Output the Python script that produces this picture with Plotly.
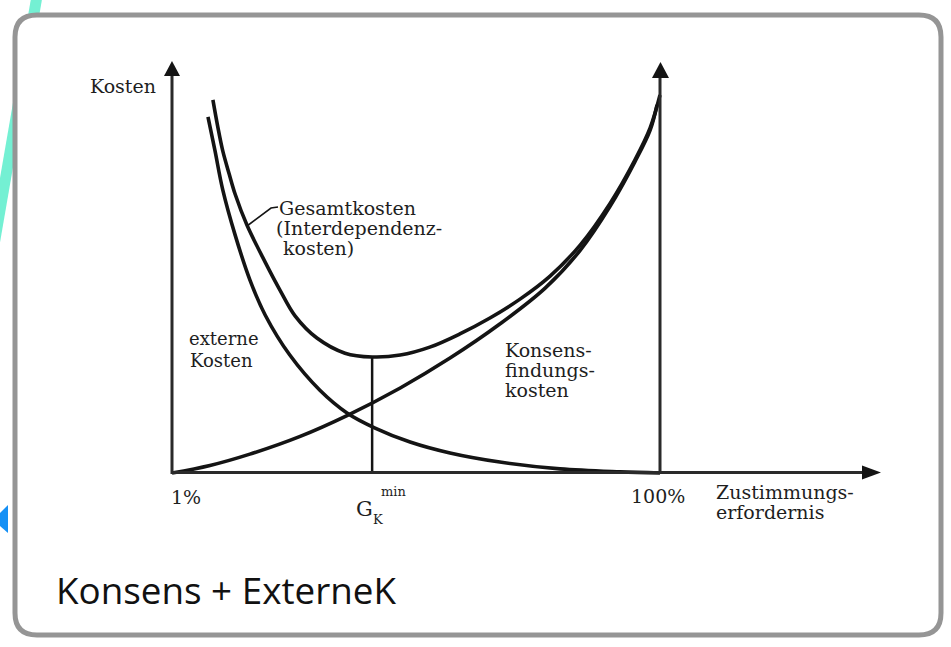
import plotly.graph_objects as go

W, H = 951, 647

# Zustimmungserfordernis in %, Kosten in relativen Einheiten
ext_x = [8.3, 9.7, 11.3, 13.8, 16.8, 19.9, 24.9, 31.0, 36.5, 42.2, 49.3, 57.4, 67.5, 79.7, 91.9, 100]
ext_y = [94.2, 85.4, 74.9, 63.0, 51.1, 41.8, 31.2, 21.9, 15.9, 11.9, 8.2, 5.3, 2.9, 1.1, 0.3, 0]

kons_x = [1, 8.7, 16.8, 27.0, 36.5, 47.3, 57.4, 67.5, 76.7, 83.8, 89.9, 94.9, 98.0, 99.4]
kons_y = [0, 2.0, 5.0, 9.7, 15.2, 22.5, 30.4, 39.4, 48.9, 58.9, 70.6, 82.3, 90.7, 97.4]

ges_x = [9.3, 10.3, 11.3, 12.6, 13.8, 16.2, 19.9, 22.9, 26.0, 30.4, 36.1, 41.6, 47.3, 53.3, 59.4,
         65.5, 71.6, 77.7, 83.8, 89.9, 94.9, 98.0, 100]
ges_y = [98.7, 91.5, 85.2, 79.1, 73.8, 65.6, 55.8, 48.4, 41.5, 35.7, 31.7, 30.7, 31.2, 33.3, 36.8,
         41.0, 46.0, 52.1, 60.3, 71.4, 82.8, 91.3, 100]

gk_min_x = 41.6
gk_min_y = 30.7

# where the scanned diagram sits on the slide (pixels)
X_PX = (172, 660)   # 1 % .. 100 %
Y_PX = (473, 95)    # Kosten 0 .. 100


def px_to_x(px):
    return 1 + (px - X_PX[0]) * 99 / (X_PX[1] - X_PX[0])


def py_to_y(py):
    return (Y_PX[0] - py) * 100 / (Y_PX[0] - Y_PX[1])


def P(px, py):
    return px / W, 1 - py / H


def path(points, close=True):
    s = ""
    for i, (px, py) in enumerate(points):
        x, y = P(px, py)
        s += ("M" if i == 0 else "L") + f"{x:.5f},{y:.5f} "
    return s + ("Z" if close else "")


def rounded_rect(x0, y0, x1, y1, r):
    def p(px, py):
        x, y = P(px, py)
        return f"{x:.5f},{y:.5f}"
    return (f"M{p(x0 + r, y0)} L{p(x1 - r, y0)} Q{p(x1, y0)} {p(x1, y0 + r)} "
            f"L{p(x1, y1 - r)} Q{p(x1, y1)} {p(x1 - r, y1)} "
            f"L{p(x0 + r, y1)} Q{p(x0, y1)} {p(x0, y1 - r)} "
            f"L{p(x0, y0 + r)} Q{p(x0, y0)} {p(x0 + r, y0)} Z")


INK = "#141414"
AXIS = "#2a2a2a"

fig = go.Figure()
curve = dict(mode="lines", line=dict(color=INK, width=3.6, shape="spline", smoothing=1.0),
             hoverinfo="skip", showlegend=False)
fig.add_trace(go.Scatter(x=ext_x, y=ext_y, **curve))
fig.add_trace(go.Scatter(x=kons_x, y=kons_y, **curve))
fig.add_trace(go.Scatter(x=ges_x, y=ges_y, **curve))
fig.add_trace(go.Scatter(x=[gk_min_x, gk_min_x], y=[0, gk_min_y], mode="lines",
                         line=dict(color=INK, width=2.5), hoverinfo="skip", showlegend=False))

shapes = [
    # slide decoration behind the box
    dict(type="line", xref="paper", yref="paper", x0=P(37, -4)[0], y0=P(37, -4)[1],
         x1=P(-6, 245)[0], y1=P(-6, 245)[1], line=dict(color="#74F0D3", width=11), layer="below"),
    dict(type="path", xref="paper", yref="paper",
         path=path([(0, 513), (8, 505), (8, 533), (0, 526)]),
         fillcolor="#1590F5", line=dict(width=0), layer="below"),
    dict(type="path", xref="paper", yref="paper", path=rounded_rect(15, 15, 941, 635, 22),
         fillcolor="white", line=dict(color="#959595", width=5), layer="below"),
    # axes
    dict(type="line", xref="paper", yref="paper", x0=P(172, 474)[0], y0=P(172, 474)[1],
         x1=P(172, 72)[0], y1=P(172, 72)[1], line=dict(color=AXIS, width=3)),
    dict(type="line", xref="paper", yref="paper", x0=P(660, 474)[0], y0=P(660, 474)[1],
         x1=P(660, 74)[0], y1=P(660, 74)[1], line=dict(color=AXIS, width=3)),
    dict(type="line", xref="paper", yref="paper", x0=P(171, 472.5)[0], y0=P(171, 472.5)[1],
         x1=P(866, 472.5)[0], y1=P(866, 472.5)[1], line=dict(color=AXIS, width=3)),
    dict(type="path", xref="paper", yref="paper", path=path([(164, 76), (172, 61), (180, 76)]),
         fillcolor=INK, line=dict(width=0)),
    dict(type="path", xref="paper", yref="paper", path=path([(652, 78), (660.5, 62), (669, 78)]),
         fillcolor=INK, line=dict(width=0)),
    dict(type="path", xref="paper", yref="paper", path=path([(862, 465.5), (881, 472.5), (862, 479.5)]),
         fillcolor=INK, line=dict(width=0)),
    # leader line to "Gesamtkosten"
    dict(type="path", xref="paper", yref="paper",
         path=path([(247, 226), (271, 208), (278, 207)], close=False),
         line=dict(color=INK, width=1.6)),
]

SERIF = "DejaVu Serif"
labels = [
    ("Kosten", 158, 86, "right", 19),
    ("Gesamtkosten", 277, 208, "left", 19),
    ("(Interdependenz-", 274, 228, "left", 19),
    ("kosten)", 281, 248, "left", 19),
    ("externe", 187, 338, "left", 18),
    ("Kosten", 188, 360, "left", 18),
    ("Konsens-", 503, 350, "left", 19),
    ("findungs-", 503, 370, "left", 19),
    ("kosten", 503, 390, "left", 19),
    ("1%", 169, 497, "left", 19),
    ("100%", 629, 496, "left", 19),
    ("Zustimmungs-", 714, 492, "left", 19),
    ("erfordernis", 714, 512, "left", 19),
    ("G", 354, 509, "left", 21),
    ("K", 371, 519, "left", 13),
    ("min", 379, 491, "left", 13),
]
annotations = []
for text, px, py, anchor, size in labels:
    x, y = P(px, py)
    annotations.append(dict(text=text, x=x, y=y, xref="paper", yref="paper",
                            xanchor=anchor, yanchor="middle", showarrow=False,
                            font=dict(family=SERIF, size=size, color="#1e1e1e")))

x, y = P(54, 590)
annotations.append(dict(text="Konsens + ExterneK", x=x, y=y, xref="paper", yref="paper",
                        xanchor="left", yanchor="middle", showarrow=False,
                        font=dict(family="Open Sans", size=36.8, color="#111111")))

fig.update_layout(
    width=W, height=H, autosize=False,
    margin=dict(l=0, r=0, t=0, b=0),
    paper_bgcolor="white", plot_bgcolor="rgba(0,0,0,0)",
    xaxis=dict(range=[px_to_x(0), px_to_x(W)], visible=False, fixedrange=True),
    yaxis=dict(range=[py_to_y(H), py_to_y(0)], visible=False, fixedrange=True),
    shapes=shapes, annotations=annotations,
    showlegend=False,
)

fig.write_html("out.html", config={"displayModeBar": False},
               post_script="document.body.style.margin = '0';")
